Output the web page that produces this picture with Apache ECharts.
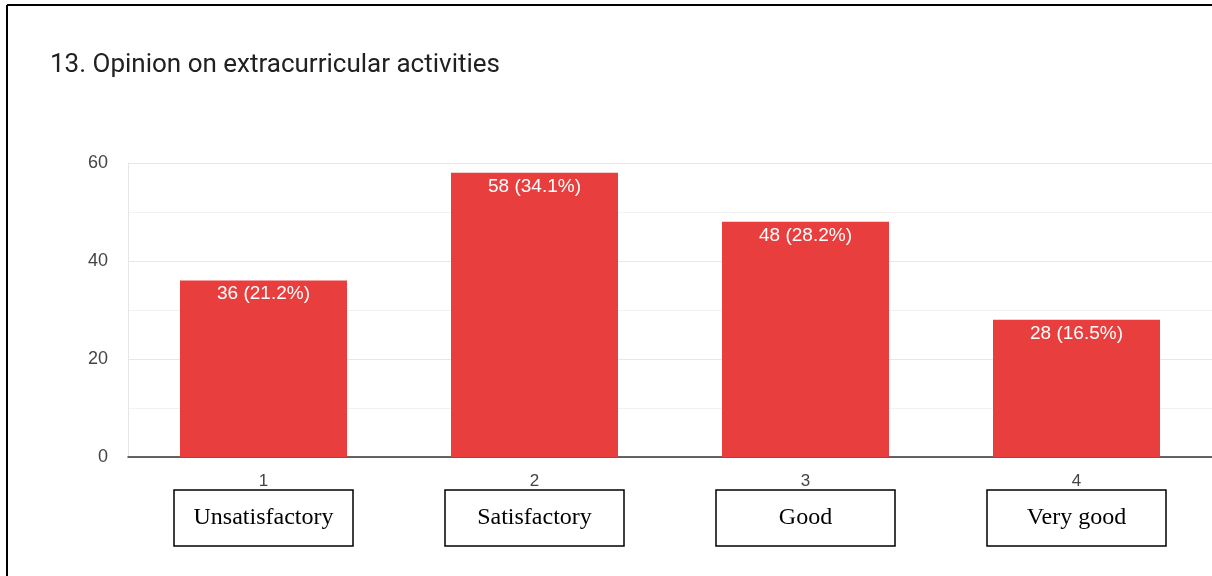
<!DOCTYPE html>
<html>
<head>
<meta charset="utf-8">
<script src="https://cdn.jsdelivr.net/npm/echarts@6/dist/echarts.min.js"></script>
<style>
  html, body { margin: 0; padding: 0; background: #fff; }
  #chart { width: 1212px; height: 576px; }
</style>
</head>
<body>
<div id="chart"></div>
<script>
"use strict";

const categories = ["1", "2", "3", "4"];
const opinions = ["Unsatisfactory", "Satisfactory", "Good", "Very good"];
const counts = [36, 58, 48, 28];
const percents = ["21.2%", "34.1%", "28.2%", "16.5%"];

let chart = echarts.init(document.getElementById("chart"));

chart.setOption({
    animation: false,
    title: {
        text: "13. Opinion on extracurricular activities",
        left: 45,
        top: 47,
        textStyle: { fontFamily: "Roboto", fontSize: 26, fontWeight: "normal", color: "#212121" }
    },
    grid: { left: 128, right: 0, top: 163, bottom: 119, containLabel: false },
    xAxis: {
        type: "category",
        data: categories,
        axisLine: { lineStyle: { color: "#333", width: 1.5 } },
        axisTick: { show: false },
        axisLabel: {
            margin: 15,
            formatter: function (v, i) {
                return "{num|" + v + "}\n{box|" + opinions[i] + "}";
            },
            rich: {
                num: { fontFamily: "Liberation Sans", fontSize: 17, color: "#444", lineHeight: 18, align: "center" },
                box: {
                    fontFamily: "Liberation Serif", fontSize: 24, color: "#000",
                    width: 179, height: 56, lineHeight: 56, align: "center",
                    borderColor: "#000", borderWidth: 1.5
                }
            }
        }
    },
    yAxis: {
        type: "value",
        min: 0,
        max: 60,
        interval: 20,
        axisLine: { show: true, lineStyle: { color: "#e6e6e6" } },
        axisLabel: { fontFamily: "Liberation Sans", fontSize: 18, color: "#444", margin: 20 },
        splitLine: { lineStyle: { color: "#e8e8e8" } },
        minorTick: { show: false, splitNumber: 2 },
        minorSplitLine: { show: true, lineStyle: { color: "#f2f2f2" } }
    },
    series: [{
        type: "bar",
        data: counts,
        barWidth: 167,
        itemStyle: { color: "#e93e3e" },
        label: {
            show: true,
            position: "insideTop",
            distance: 4,
            fontFamily: "Liberation Sans",
            fontSize: 19,
            color: "#fff",
            formatter: p => p.value + " (" + percents[p.dataIndex] + ")"
        }
    }],
    graphic: [
        { type: "line", shape: { x1: 7, y1: 5, x2: 1212, y2: 5 }, style: { stroke: "#000", lineWidth: 2 } },
        { type: "line", shape: { x1: 7, y1: 5, x2: 7, y2: 576 }, style: { stroke: "#000", lineWidth: 2 } }
    ]
});
</script>
</body>
</html>
